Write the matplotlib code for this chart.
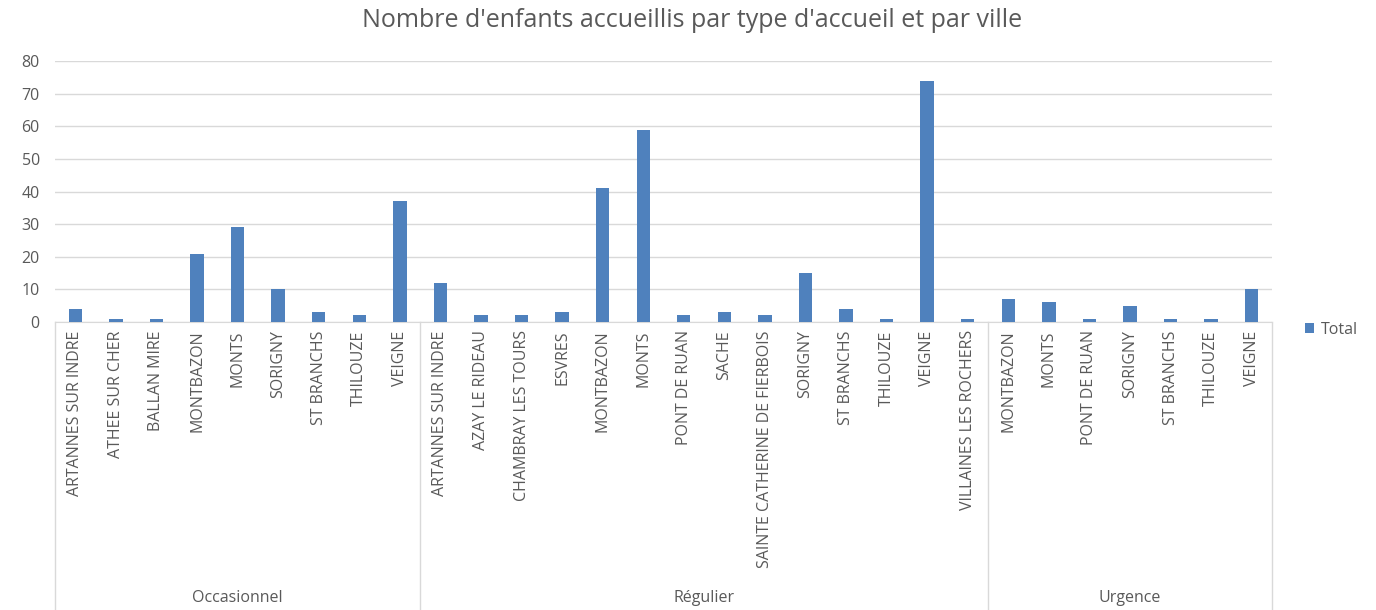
import matplotlib.pyplot as plt
import matplotlib.transforms as mtransforms

# data
groups = ['Occasionnel', 'Régulier', 'Urgence']
occasionnel_villes = ['ARTANNES SUR INDRE', 'ATHEE SUR CHER', 'BALLAN MIRE', 'MONTBAZON',
                      'MONTS', 'SORIGNY', 'ST BRANCHS', 'THILOUZE', 'VEIGNE']
occasionnel_vals = [4, 1, 1, 21, 29, 10, 3, 2, 37]
regulier_villes = ['ARTANNES SUR INDRE', 'AZAY LE RIDEAU', 'CHAMBRAY LES TOURS', 'ESVRES',
                   'MONTBAZON', 'MONTS', 'PONT DE RUAN', 'SACHE',
                   'SAINTE CATHERINE DE FIERBOIS', 'SORIGNY', 'ST BRANCHS', 'THILOUZE',
                   'VEIGNE', 'VILLAINES LES ROCHERS']
regulier_vals = [12, 2, 2, 3, 41, 59, 2, 3, 2, 15, 4, 1, 74, 1]
urgence_villes = ['MONTBAZON', 'MONTS', 'PONT DE RUAN', 'SORIGNY', 'ST BRANCHS',
                  'THILOUZE', 'VEIGNE']
urgence_vals = [7, 6, 1, 5, 1, 1, 10]

villes = occasionnel_villes + regulier_villes + urgence_villes
vals = occasionnel_vals + regulier_vals + urgence_vals
sizes = [len(occasionnel_villes), len(regulier_villes), len(urgence_villes)]

plt.rcParams['font.family'] = ['Open Sans', 'DejaVu Sans']
grey = '#595959'
line_col = '#D9D9D9'

fig = plt.figure(figsize=(13.76, 6.10), dpi=100)
ax = fig.add_axes([0.040, 0.4721, 0.8844, 0.4279])

x = list(range(len(vals)))
ax.bar(x, vals, width=0.33, color='#4F81BD', label='Total', zorder=3)
ax.set_xlim(-0.5, len(vals) - 0.5)
ax.set_ylim(0, 80)
ax.set_yticks(range(0, 81, 10))
ax.yaxis.grid(True, color=line_col, linewidth=1)
ax.set_axisbelow(True)
ax.tick_params(axis='y', length=0, labelsize=11.5, labelcolor=grey, pad=11)
ax.set_xticks(x, villes, rotation=90, va='top', ha='center')
ax.tick_params(axis='x', length=0, labelsize=11.5, labelcolor=grey, pad=6)
for s in ['top', 'right', 'left']:
    ax.spines[s].set_visible(False)
ax.spines['bottom'].set_color(line_col)

# group separators and labels
trans = mtransforms.blended_transform_factory(ax.transData, ax.transAxes)
ybot = -288 / 261
start = 0
edges = [-0.5]
for g, n in zip(groups, sizes):
    ax.text(start + (n - 1) / 2, -276 / 261, g, transform=trans, ha='center', va='center',
            fontsize=11.5, color=grey)
    start += n
    edges.append(start - 0.5)
for e in edges:
    ax.plot([e, e], [0, ybot], transform=trans, color=line_col, linewidth=1, clip_on=False)

fig.text(0.503, 0.967, "Nombre d'enfants accueillis par type d'accueil et par ville",
         fontsize=18, color=grey, ha='center', va='center')

ax.legend(loc='center left', bbox_to_anchor=(1.015, -0.03), frameon=False,
          fontsize=11.5, labelcolor=grey, handlelength=0.6, handleheight=0.6,
          handletextpad=0.4)

fig.savefig('out.png', dpi=100)
